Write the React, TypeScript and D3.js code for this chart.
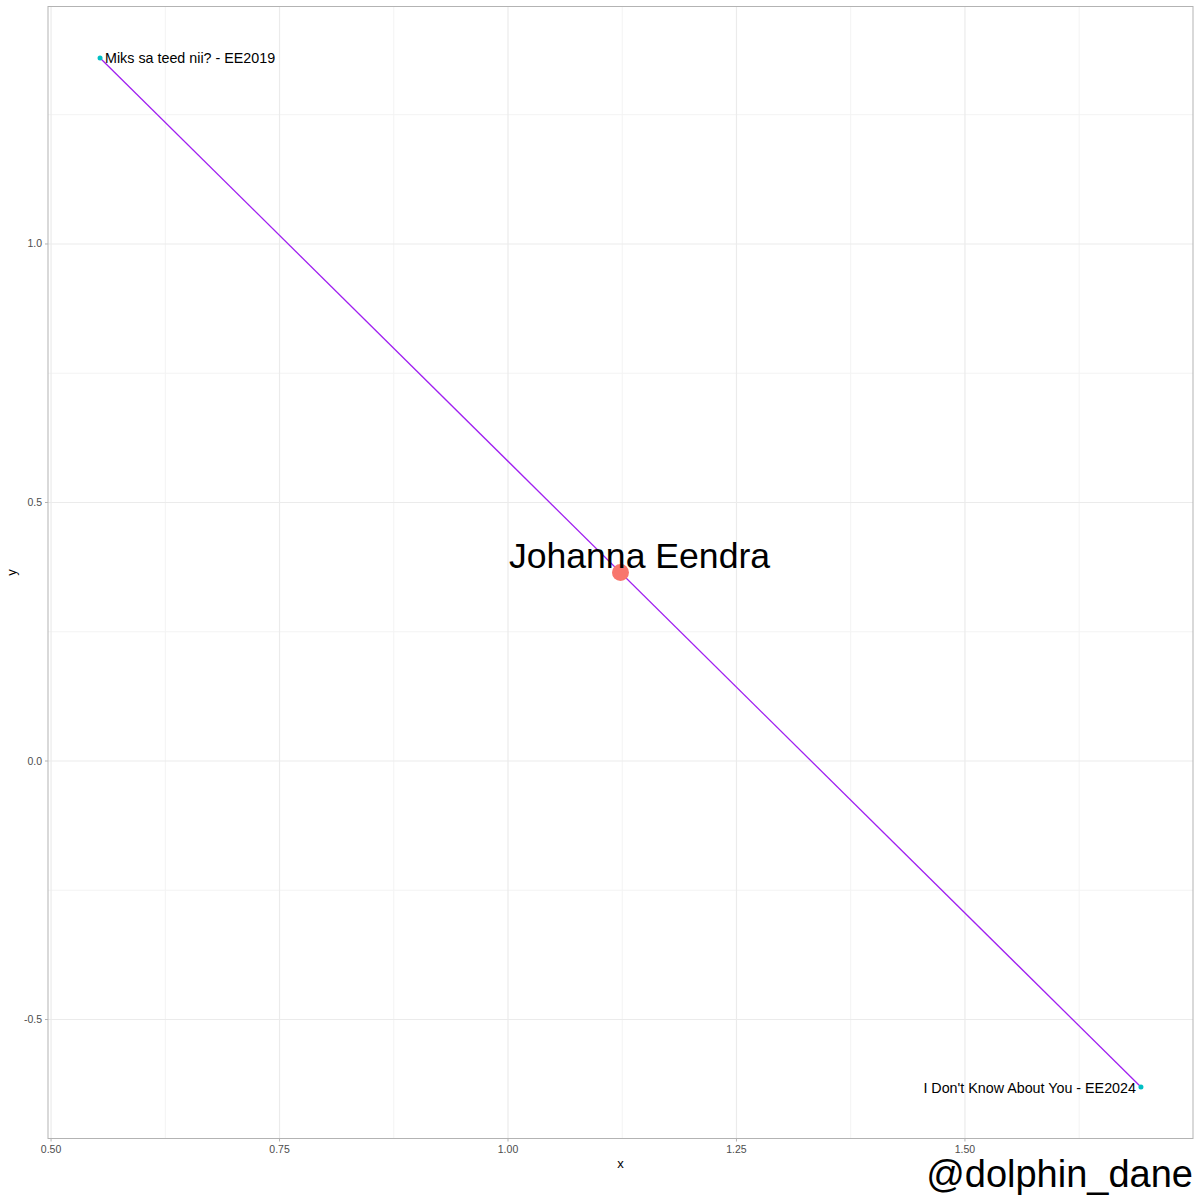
import React from "react";
import * as d3 from "d3";

const songNames = ["Miks sa teed nii? - EE2019", "I Don't Know About You - EE2024"];
const songX = [0.5536, 1.6926];
const songY = [1.3598, -0.6306];
const artistName = ["Johanna Eendra"];
const xTicks = [0.5, 0.75, 1.0, 1.25, 1.5];
const xTickLabels = ["0.50", "0.75", "1.00", "1.25", "1.50"];
const yTicks = [-0.5, 0.0, 0.5, 1.0];
const yTickLabels = ["-0.5", "0.0", "0.5", "1.0"];
const xMinor = [0.625, 0.875, 1.125, 1.375, 1.625];
const yMinor = [-0.25, 0.25, 0.75, 1.25];

export default function App() {
  const W = 1200, H = 1200;
  const left = 48, right = 1193, top = 6.5, bottom = 1138.5;
  const font = "Liberation Sans, Arial, Helvetica, sans-serif";
  const xr = d3.extent(songX) as [number, number];
  const yr = d3.extent(songY) as [number, number];
  const xe = (xr[1] - xr[0]) * 0.05, ye = (yr[1] - yr[0]) * 0.05;
  const x = d3.scaleLinear().domain([xr[0] - xe, xr[1] + xe]).range([left, right]);
  const y = d3.scaleLinear().domain([yr[0] - ye, yr[1] + ye]).range([bottom, top]);
  const cx = d3.mean(songX)!, cy = d3.mean(songY)!;
  const line = d3.line<number>().x((_, i) => x(songX[i])).y((_, i) => y(songY[i]));
  return (
    <svg width={W} height={H} style={{ position: "absolute", left: 0, top: 0, background: "#fff" }} fontFamily={font}>
      <rect x={0} y={0} width={W} height={H} fill="#fff" />
      {xMinor.map((v) => (
        <line key={"xm" + v} x1={x(v)} x2={x(v)} y1={top} y2={bottom} stroke="#F3F3F3" strokeWidth={1} />
      ))}
      {yMinor.map((v) => (
        <line key={"ym" + v} y1={y(v)} y2={y(v)} x1={left} x2={right} stroke="#F3F3F3" strokeWidth={1} />
      ))}
      {xTicks.map((v) => (
        <line key={"xg" + v} x1={x(v)} x2={x(v)} y1={top} y2={bottom} stroke="#EBEBEB" strokeWidth={1.2} />
      ))}
      {yTicks.map((v) => (
        <line key={"yg" + v} y1={y(v)} y2={y(v)} x1={left} x2={right} stroke="#EBEBEB" strokeWidth={1.2} />
      ))}
      <path d={line(songX) || ""} fill="none" stroke="#A020F0" strokeWidth={1.3} />
      {songX.map((v, i) => (
        <circle key={"p" + i} cx={x(v)} cy={y(songY[i])} r={2.5} fill="#00BFC4" />
      ))}
      <circle cx={x(cx)} cy={y(cy)} r={8.5} fill="#F8766D" />
      <text x={x(songX[0]) + 5} y={y(songY[0]) + 5.5} fontSize={14.3} fill="#000">{songNames[0]}</text>
      <text x={x(songX[1]) - 5} y={y(songY[1]) + 5.5} fontSize={14.3} fill="#000" textAnchor="end">{songNames[1]}</text>
      <text x={x(cx) + 19} y={y(cy) - 5} fontSize={35.6} fill="#000" textAnchor="middle">{artistName[0]}</text>
      <rect x={left} y={top} width={right - left} height={bottom - top} fill="none" stroke="#B3B3B3" strokeWidth={1} />
      {xTicks.map((v, i) => (
        <g key={"xt" + v}>
          <line x1={x(v)} x2={x(v)} y1={bottom} y2={bottom + 3} stroke="#B3B3B3" />
          <text x={x(v)} y={bottom + 14} fontSize={10.5} fill="#4D4D4D" textAnchor="middle">{xTickLabels[i]}</text>
        </g>
      ))}
      {yTicks.map((v, i) => (
        <g key={"yt" + v}>
          <line x1={left - 3} x2={left} y1={y(v)} y2={y(v)} stroke="#B3B3B3" />
          <text x={left - 6} y={y(v) + 3.5} fontSize={10.5} fill="#4D4D4D" textAnchor="end">{yTickLabels[i]}</text>
        </g>
      ))}
      <text x={(left + right) / 2} y={1168} fontSize={13} fill="#000" textAnchor="middle">x</text>
      <text transform={`translate(16,${(top + bottom) / 2}) rotate(-90)`} fontSize={13} fill="#000" textAnchor="middle">y</text>
      <text x={1193} y={1187} fontSize={38} fill="#000" textAnchor="end">@dolphin_dane</text>
    </svg>
  );
}
